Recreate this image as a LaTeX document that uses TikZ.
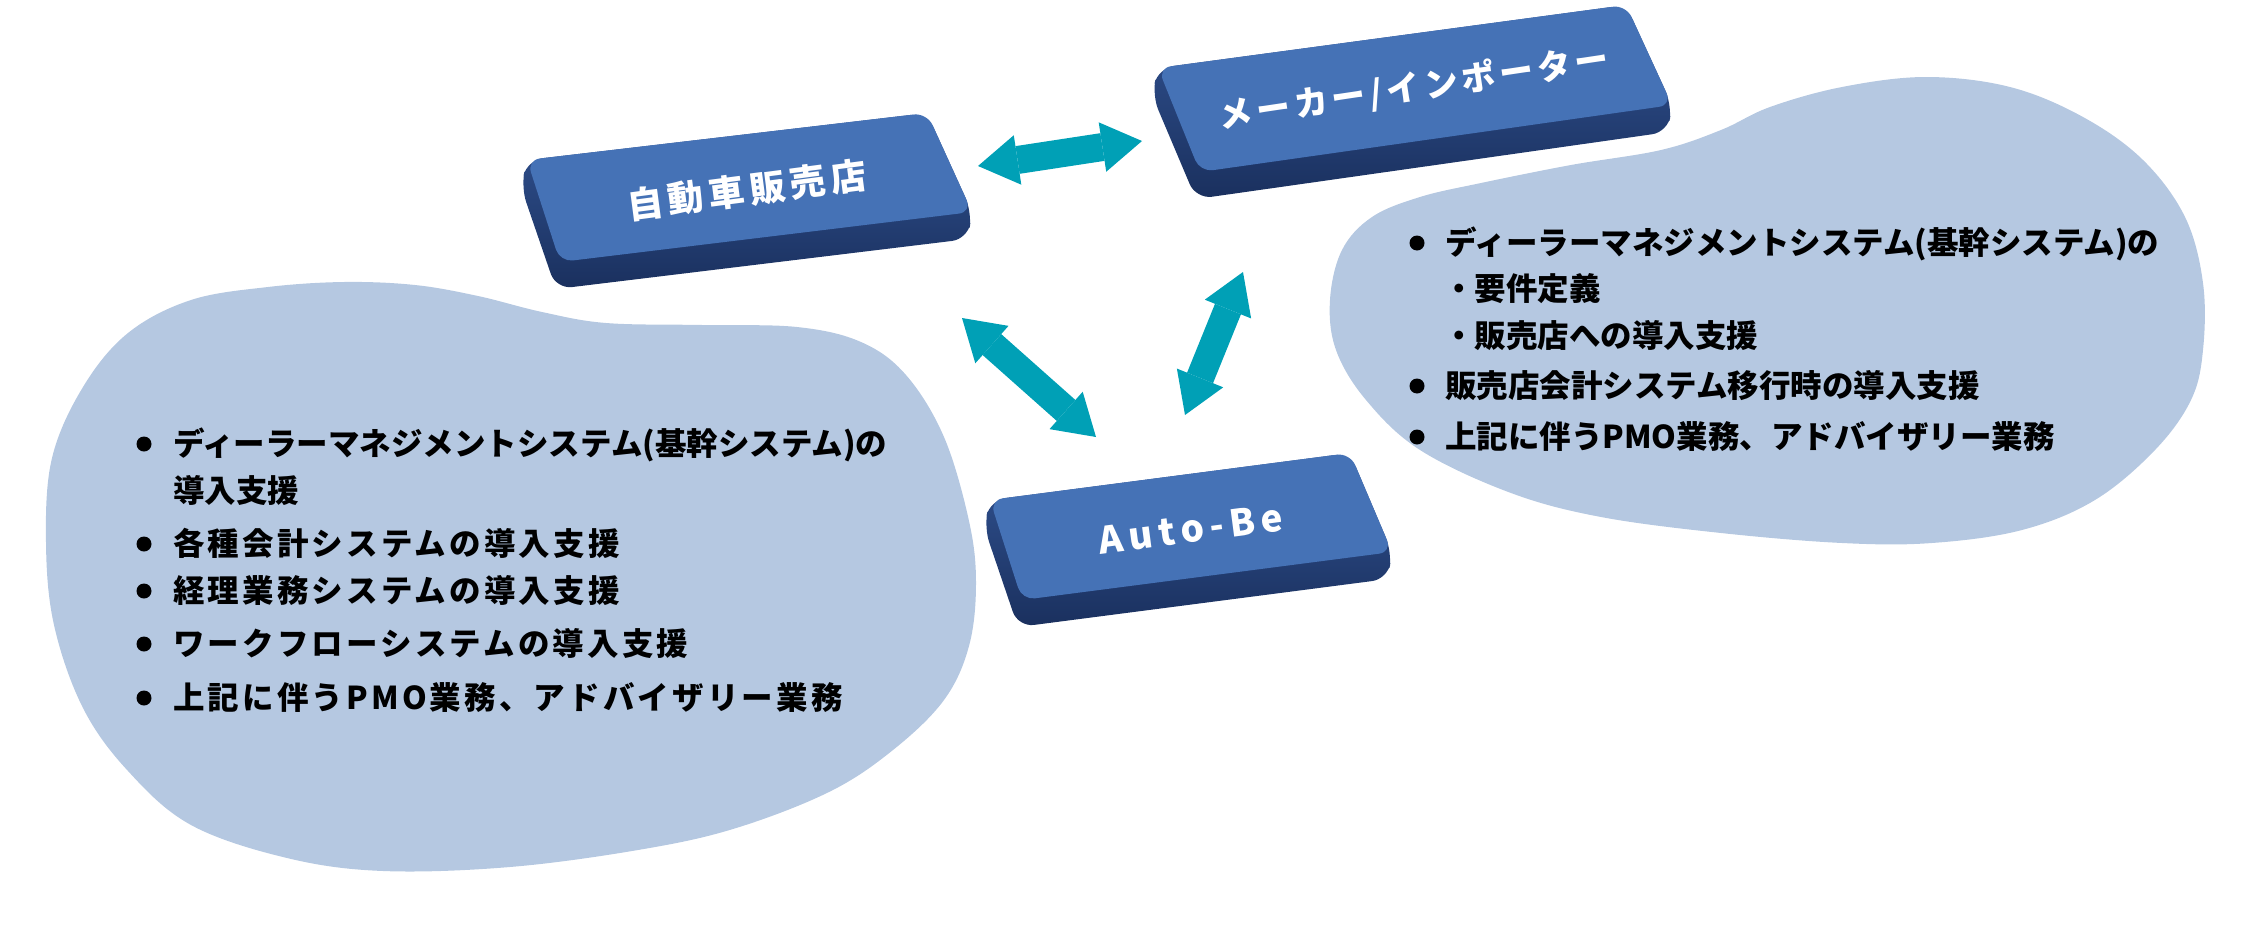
\documentclass[tikz,border=0pt]{standalone}
\usepackage{fontspec}
\newfontfamily\jp{Noto Sans CJK JP}
\usetikzlibrary{arrows.meta}
\definecolor{blobc}{RGB}{181,200,225}
\definecolor{facec}{RGB}{69,114,182}
\definecolor{sidetop}{RGB}{50,84,148}
\definecolor{sidebot}{RGB}{26,48,94}
\definecolor{arrowc}{RGB}{0,160,182}
\tikzset{
  blob/.style={fill=blobc},
  slabside/.style={top color=sidetop, bottom color=sidebot, rounded corners=16pt},
  slabface/.style={fill=facec, rounded corners=13pt},
  boxlbl/.style={text=white, inner sep=0pt, font=\jp\bfseries\fontsize{33}{36}\selectfont},
  listtxt/.style={anchor=west, inner sep=0pt, text=black, text height=27pt, text depth=4pt,
    font=\jp\bfseries\fontsize{31.5}{36}\selectfont},
  widetxt/.style={listtxt, font=\jp\bfseries\fontsize{31.5}{36}\selectfont\addfontfeature{LetterSpace=10}},
  bul/.style={fill=black},
  dblarrow/.style={draw=arrowc, line width=28pt,
    {Triangle[length=40pt,width=50pt,line width=0pt,fill=arrowc]}-{Triangle[length=40pt,width=50pt,line width=0pt,fill=arrowc]}}
}
\begin{document}
\begin{tikzpicture}[x=1pt,y=-1pt]
\useasboundingbox (0,0) rectangle (2244,945);

% blobs
\path[blob] plot[smooth cycle, tension=0.6] coordinates {(344,282) (415,285) (478,296) (542,312) (606,323) (702,325) (797,327) (861,342) (906,375) (944,437) (969,521) (976,583) (969,646) (944,700) (893,750) (829,792) (733,829) (638,850) (510,867) (383,871) (287,858) (191,825) (128,771) (83,708) (54,625) (46,542) (52,458) (83,387) (128,333) (191,300) (268,287)};
\path[blob] plot[smooth cycle, tension=0.6] coordinates {(1926,77) (2010,87) (2083,117) (2143,160) (2185,217) (2203,283) (2203,350) (2191,400) (2155,450) (2095,500) (2022,530) (1932,543) (1842,543) (1721,533) (1601,517) (1511,493) (1420,450) (1366,400) (1336,350) (1330,300) (1342,250) (1372,217) (1420,197) (1481,183) (1571,165) (1661,150) (1721,130) (1770,107) (1842,87)};

% box 1
\coordinate (b1tl) at (527,160); \coordinate (b1tr) at (927,113);
\coordinate (b1br) at (972,212); \coordinate (b1bl) at (560,262);
\path[slabside] (b1tl) -- (b1tr) -- (b1br) -- ([shift={(-4,27)}]b1br) -- ([shift={(-4,27)}]b1bl) -- ([shift={(-6,27)}]b1tl) -- cycle;
\path[slabface] (b1tl) -- (b1tr) -- (b1br) -- (b1bl) -- cycle;
\node[boxlbl, rotate=7.5, font=\jp\bfseries\fontsize{36}{40}\selectfont\addfontfeature{LetterSpace=14}] (dealer) at (747,190) {自動車販売店};

% box 2
\coordinate (b2tl) at (1158,68); \coordinate (b2tr) at (1626,5);
\coordinate (b2br) at (1672,105); \coordinate (b2bl) at (1200,172);
\path[slabside] (b2tl) -- (b2tr) -- (b2br) -- ([shift={(-4,27)}]b2br) -- ([shift={(-4,27)}]b2bl) -- ([shift={(-6,27)}]b2tl) -- cycle;
\path[slabface] (b2tl) -- (b2tr) -- (b2br) -- (b2bl) -- cycle;
\node[boxlbl, rotate=8.5, font=\jp\bfseries\fontsize{34}{38}\selectfont\addfontfeature{LetterSpace=12}] (maker) at (1414,88) {メーカー/インポーター};

% box 3
\coordinate (b3tl) at (990,500); \coordinate (b3tr) at (1350,453);
\coordinate (b3br) at (1392,552); \coordinate (b3bl) at (1022,600);
\path[slabside] (b3tl) -- (b3tr) -- (b3br) -- ([shift={(-4,27)}]b3br) -- ([shift={(-4,27)}]b3bl) -- ([shift={(-6,27)}]b3tl) -- cycle;
\path[slabface] (b3tl) -- (b3tr) -- (b3br) -- (b3bl) -- cycle;
\node[boxlbl, rotate=7.5, font=\jp\bfseries\fontsize{37}{40}\selectfont\addfontfeature{LetterSpace=16}] (autobe) at (1191,529) {Auto-Be};

% arrows
\coordinate (a1s) at (978,166); \coordinate (a1e) at (1142,141);
\coordinate (a2s) at (962,318); \coordinate (a2e) at (1096,437);
\coordinate (a3s) at (1243,272); \coordinate (a3e) at (1185,415);
\draw[dblarrow] (a1s) -- (a1e);
\draw[dblarrow] (a2s) -- (a2e);
\draw[dblarrow] (a3s) -- (a3e);

% left list
\fill[bul] (144,444) circle (7.5);
\fill[bul] (144,544) circle (7.5);
\fill[bul] (144,591) circle (7.5);
\fill[bul] (144,644) circle (7.5);
\fill[bul] (144,698) circle (7.5);
\node[listtxt] (l1) at (173,444) {ディーラーマネジメントシステム(基幹システム)の};
\node[listtxt] (l2) at (173,491) {導入支援};
\node[widetxt] (l3) at (173,544) {各種会計システムの導入支援};
\node[widetxt] (l4) at (173,591) {経理業務システムの導入支援};
\node[widetxt] (l5) at (173,644) {ワークフローシステムの導入支援};
\node[widetxt] (l6) at (173,698) {上記に伴うPMO業務、アドバイザリー業務};

% right list
\fill[bul] (1417,243) circle (7.5);
\fill[bul] (1417,386) circle (7.5);
\fill[bul] (1417,437) circle (7.5);
\node[listtxt] (r1) at (1445,243) {ディーラーマネジメントシステム(基幹システム)の};
\node[listtxt] (r2) at (1443,289) {・要件定義};
\node[listtxt] (r3) at (1443,336) {・販売店への導入支援};
\node[listtxt] (r4) at (1445,386) {販売店会計システム移行時の導入支援};
\node[listtxt] (r5) at (1445,437) {上記に伴うPMO業務、アドバイザリー業務};
\end{tikzpicture}
\end{document}
